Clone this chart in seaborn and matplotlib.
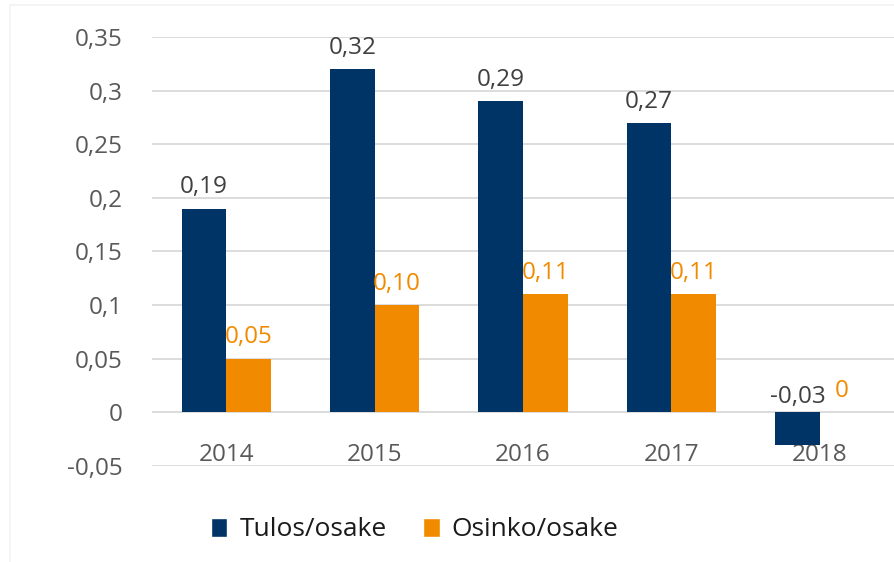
import matplotlib
matplotlib.use("Agg")
import matplotlib.pyplot as plt
import seaborn as sns
import pandas as pd
from matplotlib.patches import Patch, Rectangle

years = ["2014", "2015", "2016", "2017", "2018"]
tulos = [0.19, 0.32, 0.29, 0.27, -0.03]
osinko = [0.05, 0.10, 0.11, 0.11, 0.0]
tulos_labels = ["0,19", "0,32", "0,29", "0,27", "-0,03"]
osinko_labels = ["0,05", "0,10", "0,11", "0,11", "0"]
series_names = ["Tulos/osake", "Osinko/osake"]
yticks = [-0.05, 0, 0.05, 0.1, 0.15, 0.2, 0.25, 0.3, 0.35]
ytick_labels = ["-0,05", "0", "0,05", "0,1", "0,15", "0,2", "0,25", "0,3", "0,35"]

NAVY = "#003366"
ORANGE = "#F28A00"
GRID = "#D9D9D9"
TICK = "#595959"
LABEL = "#404040"

sns.set_style("white")
plt.rcParams["font.family"] = ["Open Sans", "DejaVu Sans"]

df = pd.DataFrame({
    "Vuosi": years * 2,
    "Arvo": tulos + osinko,
    "Sarja": [series_names[0]] * len(years) + [series_names[1]] * len(years),
})

fig = plt.figure(figsize=(8.94, 5.62), dpi=100)
ax = fig.add_axes([0.170, 0.1708, 0.830, 0.7634])

sns.barplot(data=df, x="Vuosi", y="Arvo", hue="Sarja",
            palette=[NAVY, ORANGE], saturation=1, width=0.6, ax=ax,
            errorbar=None, linewidth=0, legend=False)

ax.set_xlim(-0.5, 4.5)
ax.set_ylim(-0.05, 0.35)
ax.set_yticks(yticks)
ax.set_yticklabels(ytick_labels)
ax.yaxis.grid(True, color=GRID, linewidth=1.3)
ax.set_axisbelow(True)
for s in ["left", "right", "top"]:
    ax.spines[s].set_visible(False)
ax.spines["bottom"].set_position(("data", 0))
ax.spines["bottom"].set_visible(False)
ax.tick_params(axis="y", length=0, pad=21, labelsize=17.5, labelcolor=TICK)
ax.tick_params(axis="x", length=0, pad=22, labelsize=17.5, labelcolor=TICK)
ax.set_xlabel("")
ax.set_ylabel("")

# data labels
for cont, labels, col in zip(ax.containers, [tulos_labels, osinko_labels], [LABEL, ORANGE]):
    for bar, lab in zip(cont, labels):
        h = bar.get_height()
        xc = bar.get_x() + bar.get_width() / 2
        off = 11 if h >= 0 else 7
        ax.annotate(lab, xy=(xc, max(h, 0)), xytext=(0, off),
                    textcoords="offset points", ha="center", va="baseline",
                    fontsize=17.5, color=col)

handles = [Patch(facecolor=NAVY, label=series_names[0]),
           Patch(facecolor=ORANGE, label=series_names[1])]
fig.legend(handles=handles, loc="center", bbox_to_anchor=(0.464, 0.057),
           ncol=2, frameon=False, fontsize=19, handlelength=0.62,
           handleheight=0.75, handletextpad=0.45, columnspacing=1.4,
           labelcolor="#1a1a1a")

# faint frame of the original slide panel
fig.add_artist(Rectangle((10 / 894, -0.01), 1.0, 1 - 5 / 562 + 0.01,
                         transform=fig.transFigure, fill=False,
                         edgecolor="#F2F2F2", linewidth=1.2))

fig.savefig("out.png", dpi=100)
